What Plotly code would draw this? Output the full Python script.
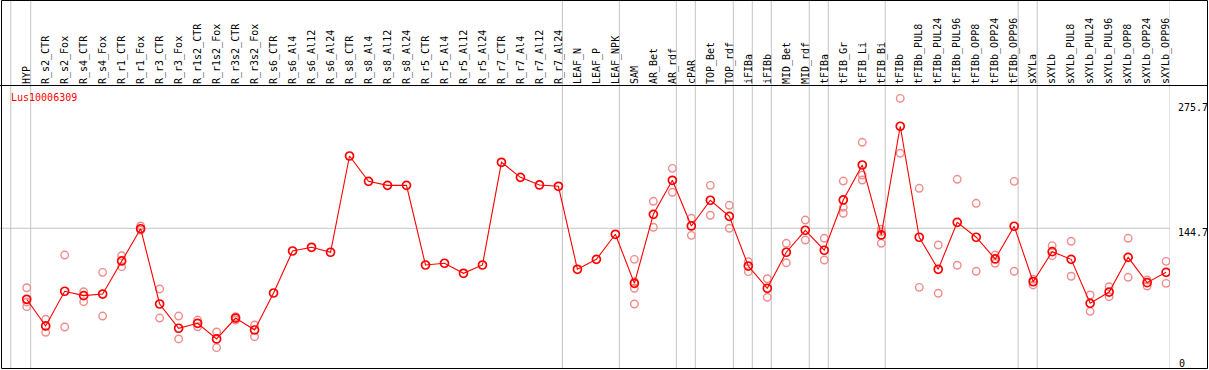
import plotly.graph_objects as go

categories = ["HYP", "R_s2_CTR", "R_s2_Fox", "R_s4_CTR", "R_s4_Fox", "R_r1_CTR", "R_r1_Fox",
              "R_r3_CTR", "R_r3_Fox", "R_r1s2_CTR", "R_r1s2_Fox", "R_r3s2_CTR", "R_r3s2_Fox",
              "R_s6_CTR", "R_s6_Al4", "R_s6_Al12", "R_s6_Al24", "R_s8_CTR", "R_s8_Al4", "R_s8_Al12",
              "R_s8_Al24", "R_r5_CTR", "R_r5_Al4", "R_r5_Al12", "R_r5_Al24", "R_r7_CTR", "R_r7_Al4",
              "R_r7_Al12", "R_r7_Al24", "LEAF_N", "LEAF_P", "LEAF_NPK", "SAM", "AR_Bet", "AR_rdf",
              "cPAR", "TOP_Bet", "TOP_rdf", "iFIBa", "iFIBb", "MID_Bet", "MID_rdf", "tFIBa",
              "tFIB_Gr", "tFIB_Li", "tFIB_Bi", "tFIBb", "tFIBb_PUL8", "tFIBb_PUL24", "tFIBb_PUL96",
              "tFIBb_OPP8", "tFIBb_OPP24", "tFIBb_OPP96", "sXYLa", "sXYLb", "sXYLb_PUL8",
              "sXYLb_PUL24", "sXYLb_PUL96", "sXYLb_OPP8", "sXYLb_OPP24", "sXYLb_OPP96"]

mean_values = [70.4, 42.5, 78.8, 74.2, 75.9, 110.5, 144.2, 65.5, 40.1, 45.3, 28.9, 50.8, 38.3,
               77.0, 120.9, 124.8, 119.6, 220.3, 193.8, 189.6, 189.6, 106.3, 108.1, 97.6, 106.3,
               213.7, 198.0, 190.0, 188.6, 101.8, 112.2, 138.4, 87.1, 159.3, 194.9, 147.1, 174.0,
               157.2, 105.2, 81.9, 119.6, 142.6, 121.7, 174.3, 210.9, 137.7, 251.4, 135.3, 101.8,
               150.9, 135.3, 112.6, 146.8, 88.8, 120.2, 112.2, 66.2, 78.0, 114.3, 87.8, 98.6]

replicates = [[82.5, 67.6, 62.7], [49.5, 35.9], [116.7, 41.4], [78.3, 67.9], [98.6, 52.9],
              [116.0, 104.5], [147.1, 142.9], [81.2, 50.8], [52.9, 28.9], [48.7, 41.7],
              [36.2, 19.8], [52.2, 48.7], [43.5, 31.3],
              [], [], [], [], [], [], [], [], [], [], [], [], [], [], [], [], [], [], [],
              [112.2, 88.8, 81.9, 65.5], [172.9, 145.7], [207.4, 182.3], [155.1, 137.3],
              [189.6, 158.3], [168.7, 144.7], [109.7, 99.3], [91.9, 72.5], [129.0, 108.7],
              [153.3, 132.4], [134.2, 111.5], [194.1, 166.6, 160.4], [234.6, 200.4, 195.2],
              [143.6, 141.1, 129.0], [280.6, 223.1], [186.5, 82.9], [127.2, 76.7], [195.9, 106.0],
              [170.8, 99.7], [116.7, 108.1], [193.8, 99.7], [91.3, 85.4], [126.5, 116.0],
              [131.1, 94.5], [74.9, 57.8], [83.6, 73.1], [134.2, 93.4], [90.6, 84.3], [110.1, 87.1]]

# index of last sample in each group (separator drawn after it)
group_ends = [0, 28, 31, 34, 35, 37, 38, 39, 41, 42, 45, 52, 53, 60]
axis_max_label = 275.7
reference_value = 144.7
gene_name = "Lus10006309"

W, H = 1209, 370
L, R, T, B = 0, 39, 85, 0
PW, PH = W - L - R, H - T - B

idx = list(range(len(categories)))
rep_x, rep_y = [], []
for i, reps in enumerate(replicates):
    for v in reps:
        rep_x.append(i)
        rep_y.append(v)

fig = go.Figure()
fig.add_trace(go.Scatter(
    x=rep_x, y=rep_y, mode="markers",
    marker=dict(symbol="circle-open", size=7.5, color="#F08C8C", line=dict(width=1.4, color="#F08C8C")),
    hoverinfo="skip", showlegend=False))
fig.add_trace(go.Scatter(
    x=idx, y=mean_values, mode="lines+markers",
    line=dict(color="#FF0000", width=1.1),
    marker=dict(symbol="circle-open", size=8, color="#FF0000", line=dict(width=1.7, color="#FF0000")),
    showlegend=False))

step = 18.99
x0px = 26.7
xr = [(0 - x0px) / step, (PW - x0px) / step]
# y pixel = 366.6 - 0.956 * v
ys = 0.956
ytop = (366.6 - T) / ys
ybot = (366.6 - H) / ys

def px_to_paper_x(px):
    return (px - L) / PW

def py_to_paper_y(py):
    return (H - B - py) / PH

shapes = []
# vertical separators
sep_positions = [-0.84] + [k + 0.21 for k in group_ends]
for s in sep_positions:
    shapes.append(dict(type="line", xref="x", yref="paper", x0=s, x1=s,
                       y0=py_to_paper_y(368.5), y1=py_to_paper_y(0),
                       line=dict(color="#C4C4C4", width=1), layer="below"))
# reference horizontal line
shapes.append(dict(type="line", xref="paper", yref="y", x0=0, x1=1, y0=reference_value, y1=reference_value,
                   line=dict(color="#C4C4C4", width=1), layer="below"))
# header line
shapes.append(dict(type="line", xref="paper", yref="paper", x0=px_to_paper_x(0), x1=px_to_paper_x(1208),
                   y0=py_to_paper_y(85.5), y1=py_to_paper_y(85.5), line=dict(color="#000000", width=1)))
# frame
shapes.append(dict(type="rect", xref="paper", yref="paper", x0=px_to_paper_x(1.5), x1=px_to_paper_x(1207.5),
                   y0=py_to_paper_y(368.5), y1=py_to_paper_y(0.5), line=dict(color="#000000", width=1),
                   fillcolor="rgba(0,0,0,0)"))

mono = "DejaVu Sans Mono"
annotations = [
    dict(text=gene_name, xref="paper", yref="paper", x=px_to_paper_x(9), y=py_to_paper_y(90),
         xanchor="left", yanchor="top", showarrow=False, font=dict(family=mono, size=10, color="#FF0000")),
    dict(text=f"{axis_max_label}", xref="paper", yref="y", x=px_to_paper_x(1176), y=axis_max_label,
         xanchor="left", yanchor="top", yshift=3, showarrow=False,
         font=dict(family=mono, size=10, color="#000000")),
    dict(text=f"{reference_value}", xref="paper", yref="y", x=px_to_paper_x(1176), y=reference_value,
         xanchor="left", yanchor="top", yshift=3, showarrow=False,
         font=dict(family=mono, size=10, color="#000000")),
    dict(text="0", xref="paper", yref="y", x=px_to_paper_x(1177), y=0,
         xanchor="left", yanchor="bottom", yshift=-4, showarrow=False,
         font=dict(family=mono, size=10, color="#000000")),
]

fig.update_layout(
    width=W, height=H, margin=dict(l=L, r=R, t=T, b=B, pad=0),
    paper_bgcolor="white", plot_bgcolor="white",
    xaxis=dict(range=xr, side="top", tickmode="array", tickvals=idx, ticktext=categories,
               tickangle=-90, tickfont=dict(family=mono, size=10, color="#000000"),
               showgrid=False, zeroline=False, showline=False, ticks="", fixedrange=True),
    yaxis=dict(range=[ybot, ytop], showgrid=False, zeroline=False, showline=False,
               showticklabels=False, ticks="", fixedrange=True),
    shapes=shapes, annotations=annotations, showlegend=False,
)

fig.write_html("out.html", config={"displayModeBar": False},
               post_script="document.body.style.margin='0px';")
